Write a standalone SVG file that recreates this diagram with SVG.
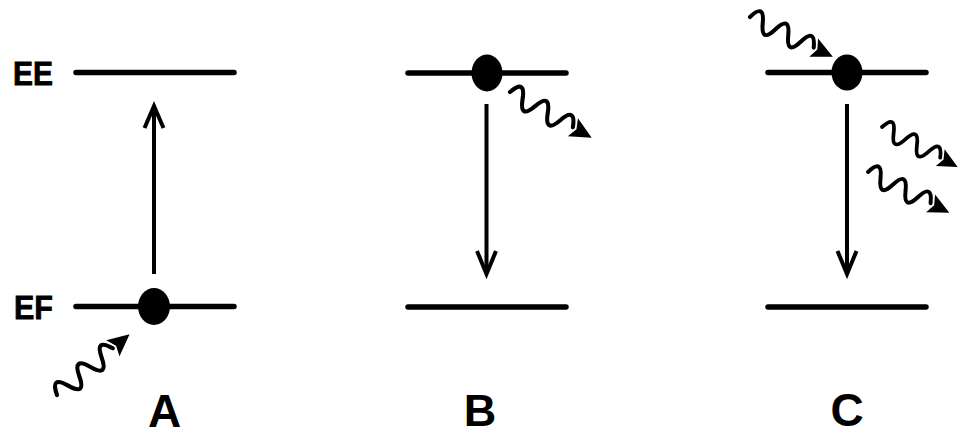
<svg xmlns="http://www.w3.org/2000/svg" xmlns:xlink="http://www.w3.org/1999/xlink" width="960" height="436" viewBox="0 0 960 436">
<style>
.lvl{stroke:#000;stroke-width:5.5;stroke-linecap:round;fill:none}
.arr{stroke:#000;stroke-width:4;fill:none}
.dot{fill:#000}
.lab{font-family:"Liberation Sans",Arial,sans-serif;font-weight:bold;fill:#000}
.wv{stroke:#000;stroke-width:4;fill:none;stroke-linecap:round}
</style>
<defs>
<g id="wave">
<path class="wv" d="M0,0 q7,-19 14,0 t14,0 t14,0 t14,0 t14,0"/>
<polygon points="91,0 70,-10 74,0 70,10" fill="#000"/>
</g>
</defs>
<rect width="960" height="436" fill="#fff"/>
<g id="labels">
<text class="lab" x="13" y="85" font-size="33" textLength="40" lengthAdjust="spacingAndGlyphs" stroke="#000" stroke-width="0.8">EE</text>
<text class="lab" x="14" y="319" font-size="33" textLength="39" lengthAdjust="spacingAndGlyphs" stroke="#000" stroke-width="0.8">EF</text>
<text class="lab" x="164.5" y="427" font-size="46" text-anchor="middle">A</text>
<text class="lab" x="480" y="426" font-size="45" text-anchor="middle">B</text>
<text class="lab" x="847" y="426" font-size="46" text-anchor="middle">C</text>
</g>
<g id="panelA">
<line class="lvl" x1="76" y1="72.5" x2="234" y2="72.5"/>
<line class="lvl" x1="76" y1="306.5" x2="234" y2="306.5"/>
<ellipse class="dot" cx="154" cy="306.5" rx="16" ry="18.5"/>
</g>
<g id="panelB">
<line class="lvl" x1="408" y1="73" x2="566" y2="73"/>
<line class="lvl" x1="408" y1="307" x2="566" y2="307"/>
<ellipse class="dot" cx="487" cy="73" rx="15.5" ry="18.5"/>
</g>
<g id="panelC">
<line class="lvl" x1="768" y1="72.5" x2="926" y2="72.5"/>
<line class="lvl" x1="768" y1="307" x2="926" y2="307"/>
<ellipse class="dot" cx="847" cy="72.5" rx="15.5" ry="18"/>
</g>
<g id="connectors">
<line class="arr" x1="154" y1="274" x2="154" y2="108"/>
<polyline class="arr" points="144.5,128 154,106 163.5,128"/>
<line class="arr" x1="486.5" y1="104" x2="486.5" y2="272"/>
<polyline class="arr" points="477,251 486.5,274 496,251"/>
<line class="arr" x1="847" y1="104" x2="847" y2="272"/>
<polyline class="arr" points="837.5,251 847,274 856.5,251"/>
<use xlink:href="#wave" transform="translate(57,395) rotate(-39.9) scale(1.04)"/>
<use xlink:href="#wave" transform="translate(510,92) rotate(29.3) scale(1.03)"/>
<use xlink:href="#wave" transform="translate(750,17) rotate(25.7) scale(1.01)"/>
<use xlink:href="#wave" transform="translate(882,127) rotate(27.8) scale(0.94)"/>
<use xlink:href="#wave" transform="translate(868,172) rotate(26.6) scale(1.0)"/>
</g>
</svg>
